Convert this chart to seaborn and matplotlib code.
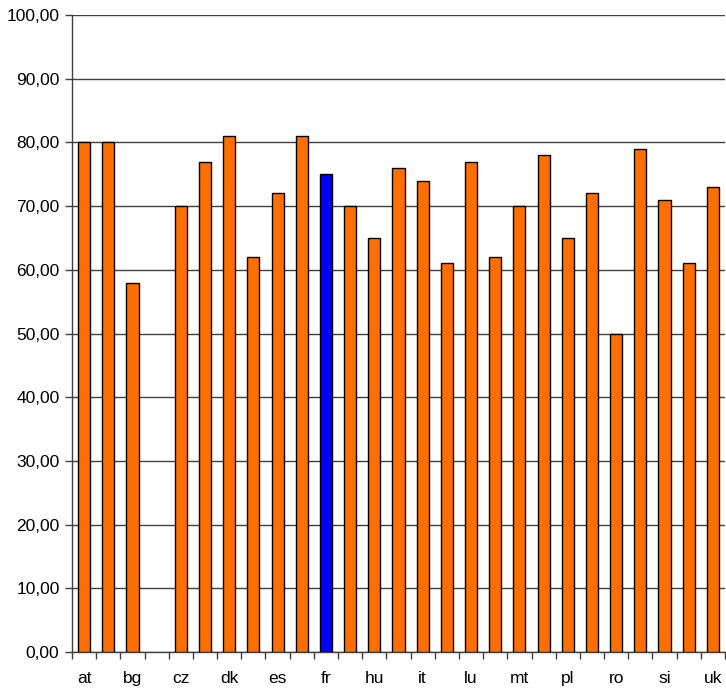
import matplotlib
matplotlib.use("Agg")
import matplotlib.pyplot as plt
import seaborn as sns
import numpy as np
import pandas as pd

countries = ["at", "be", "bg", "cy", "cz", "de", "dk", "ee", "es", "fi", "fr", "gr", "hu", "ie",
             "it", "lt", "lu", "lv", "mt", "nl", "pl", "pt", "ro", "se", "si", "sk", "uk"]
values = [80, 80, 58, np.nan, 70, 77, 81, 62, 72, 81, 75, 70, 65, 76,
          74, 61, 77, 62, 70, 78, 65, 72, 50, 79, 71, 61, 73]
highlight = "fr"
y_ticks = [0, 10, 20, 30, 40, 50, 60, 70, 80, 90, 100]

sns.set_theme(style="white")
plt.rcParams["font.family"] = ["Liberation Sans", "DejaVu Sans"]

df = pd.DataFrame({"country": countries, "value": values})
palette = {c: ("#0000FF" if c == highlight else "#FF6E00") for c in countries}

fig = plt.figure(figsize=(7.26, 6.91), dpi=100)
ax = fig.add_axes([72/726, 1-652/691, (725-72)/726, (652-15)/691])

sns.barplot(data=df, x="country", y="value", hue="country", palette=palette,
            order=countries, width=0.5, edgecolor="black", linewidth=1.0,
            saturation=1, legend=False, ax=ax, zorder=3)

ax.set_xlim(-0.5, len(countries) - 0.5)
ax.set_ylim(0, 100)
ax.set_yticks(y_ticks)
ax.set_yticklabels([f"{v:.2f}".replace(".", ",") for v in y_ticks], fontsize=12.5, color="black")
ax.yaxis.grid(True, color="#404040", linewidth=1.0, zorder=0)
ax.set_axisbelow(True)

pos = np.arange(len(countries))
ax.set_xticks(pos)
ax.set_xticklabels([c if i % 2 == 0 else "" for i, c in enumerate(countries)], fontsize=12.5, color="black")
ax.set_xticks(np.arange(len(countries) + 1) - 0.5, minor=True)
ax.tick_params(axis="x", which="major", length=0, pad=14)
ax.tick_params(axis="x", which="minor", length=5, width=1, color="#404040", direction="out", bottom=True)
ax.tick_params(axis="y", length=5, width=1, color="#404040", direction="out", left=True, pad=4)

ax.set_xlabel("")
ax.set_ylabel("")
for s in ["top", "right"]:
    ax.spines[s].set_visible(False)
for s in ["left", "bottom"]:
    ax.spines[s].set_color("#404040")
    ax.spines[s].set_linewidth(1.0)

fig.savefig("out.png", dpi=100)
